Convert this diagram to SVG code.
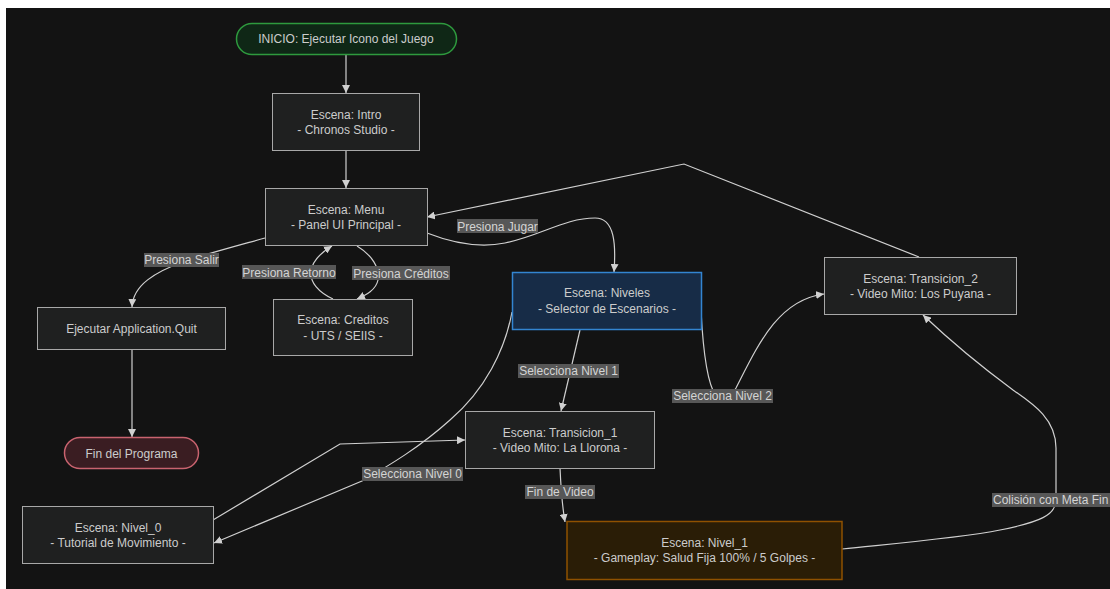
<svg xmlns="http://www.w3.org/2000/svg" width="1110" height="589" viewBox="0 0 1110 589">
<defs>
<marker id="arr" viewBox="0 0 10 10" refX="10" refY="5" markerWidth="8" markerHeight="8" markerUnits="userSpaceOnUse" orient="auto">
<path d="M0,0 L10,5 L0,10 z" fill="#d0d0d0"/>
</marker>
<style>
text{font-family:"Liberation Sans",Arial,sans-serif;font-size:12px;fill:#cccccc;text-anchor:middle}
.n{fill:#1f2020;stroke:#a8a8a8;stroke-width:1}
.e{fill:none;stroke:#d0d0d0;stroke-width:1.2;marker-end:url(#arr)}
.lb{fill:#575757}
.lt{fill:#d4d4d4}
</style>
</defs>
<rect x="0" y="0" width="1110" height="589" fill="#ffffff"/>
<rect x="6" y="8" width="1104" height="581" fill="#131313"/>
<g id="connectors">
<path class="e" d="M346,54 L346,93"/>
<path class="e" d="M346,150 L346,188"/>
<path class="e" d="M265,238 C240,245 210,253 185,261 C155,272 133,285 132,307"/>
<path class="e" d="M132,349 L132,437"/>
<path class="e" d="M357,246 C372,255 380,268 378,280 C376,290 366,295 357,299"/>
<path class="e" d="M333,299 C318,292 310,282 311,272 C312,260 322,252 332,246"/>
<path class="e" d="M427,233 C455,244 480,248 505,243 C540,236 565,218 595,218 C615,218 616,245 614,272"/>
<path class="e" d="M919,257 L684,164 L427,217"/>
<path class="e" d="M580,330 L561,411"/>
<path class="e" d="M701,310 C703,350 708,385 716,396 C725,402 730,398 736,388 C758,345 778,300 824,294"/>
<path class="e" d="M512,312 C505,350 485,390 450,420 C420,447 390,465 362,481 L214,543"/>
<path class="e" d="M213,520 L340,444 L465,440"/>
<path class="e" d="M560,468 C561,490 562,505 565,522"/>
<path class="e" d="M842,549 C900,543 960,538 1000,530 C1040,522 1056,515 1056,500 L1056,448 C1056,420 1035,405 1013,390 C990,373 960,350 923,315"/>
<g id="labels">
<rect class="lb" x="144" y="253" width="75" height="14"/>
<text class="lt" x="181.5" y="264">Presiona Salir</text>
<rect class="lb" x="242" y="265" width="94" height="14"/>
<text class="lt" x="289" y="276.5">Presiona Retorno</text>
<rect class="lb" x="352" y="266" width="98" height="14"/>
<text class="lt" x="401" y="277.5">Presiona Créditos</text>
<rect class="lb" x="457" y="219" width="81" height="14"/>
<text class="lt" x="497.5" y="230.5">Presiona Jugar</text>
<rect class="lb" x="518" y="364" width="101" height="14"/>
<text class="lt" x="568.5" y="375">Selecciona Nivel 1</text>
<rect class="lb" x="672" y="389" width="101" height="14"/>
<text class="lt" x="722.5" y="400">Selecciona Nivel 2</text>
<rect class="lb" x="362" y="467" width="101" height="14"/>
<text class="lt" x="412.5" y="478">Selecciona Nivel 0</text>
<rect class="lb" x="525" y="485" width="70" height="14"/>
<text class="lt" x="560" y="496">Fin de Video</text>
<rect class="lb" x="992" y="493" width="118" height="14"/>
<text class="lt" x="993" y="504" style="text-anchor:start">Colisión con Meta Fin</text>
</g>
</g>
<g id="inicio">
<rect x="236.5" y="23.5" width="220" height="31" rx="15.5" fill="#0f2716" stroke="#2e9a3e" stroke-width="1.5"/>
<text x="346" y="43.3">INICIO: Ejecutar Icono del Juego</text>
</g>
<g id="intro">
<rect class="n" x="272.5" y="93.5" width="147" height="57"/>
<text x="346" y="118.5">Escena: Intro</text>
<text x="346" y="134">- Chronos Studio -</text>
</g>
<g id="menu">
<rect class="n" x="265.5" y="188.5" width="162" height="57"/>
<text x="346" y="213.5">Escena: Menu</text>
<text x="346" y="229">- Panel UI Principal -</text>
</g>
<g id="creditos">
<rect class="n" x="273.5" y="299.5" width="139" height="56"/>
<text x="343" y="324">Escena: Creditos</text>
<text x="343" y="339.5">- UTS / SEIIS -</text>
</g>
<g id="quit">
<rect class="n" x="37.5" y="307.5" width="188" height="42"/>
<text x="131.5" y="332.7">Ejecutar Application.Quit</text>
</g>
<g id="fin">
<rect x="64.5" y="437.5" width="134" height="31" rx="15.5" fill="#3a1d22" stroke="#c9636f" stroke-width="1.5"/>
<text x="131.5" y="457.7">Fin del Programa</text>
</g>
<g id="niveles">
<rect x="512.5" y="272.5" width="189" height="57" fill="#172c47" stroke="#3385d1" stroke-width="1.5"/>
<text x="607" y="297.3">Escena: Niveles</text>
<text x="607" y="313.3">- Selector de Escenarios -</text>
</g>
<g id="transicion2">
<rect class="n" x="824.5" y="257.5" width="192" height="57"/>
<text x="920.5" y="282.7">Escena: Transicion_2</text>
<text x="920.5" y="298">- Video Mito: Los Puyana -</text>
</g>
<g id="transicion1">
<rect class="n" x="465.5" y="411.5" width="189" height="57"/>
<text x="560" y="436.7">Escena: Transicion_1</text>
<text x="560" y="452.3">- Video Mito: La Llorona -</text>
</g>
<g id="nivel0">
<rect class="n" x="22.5" y="506.5" width="191" height="57"/>
<text x="118" y="531.7">Escena: Nivel_0</text>
<text x="118" y="547.3">- Tutorial de Movimiento -</text>
</g>
<g id="nivel1">
<rect x="567" y="521.5" width="275" height="58" fill="#2a1d06" stroke="#8f5100" stroke-width="1.5"/>
<text x="704.5" y="547.3">Escena: Nivel_1</text>
<text x="704.5" y="562.3">- Gameplay: Salud Fija 100% / 5 Golpes -</text>
</g>
</svg>
